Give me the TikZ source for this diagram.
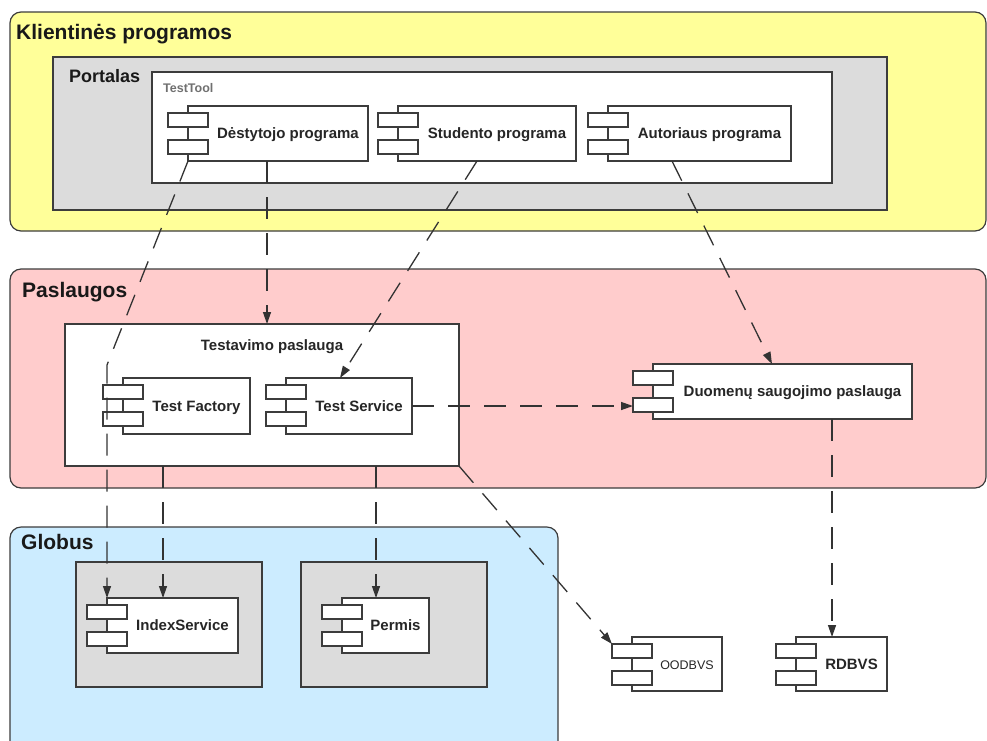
\documentclass[tikz,border=0pt]{standalone}
\usepackage{fontspec}
\setmainfont{Liberation Sans}
\usetikzlibrary{arrows.meta,calc}
\definecolor{lineC}{HTML}{3C3C3C}
\definecolor{yellowP}{HTML}{FFFF99}
\definecolor{pinkP}{HTML}{FFCCCC}
\definecolor{blueP}{HTML}{CCECFF}
\definecolor{grayP}{HTML}{DCDCDC}
\definecolor{txtgray}{HTML}{707070}
\tikzset{
  panel/.style={draw=lineC, line width=1.2pt, rounded corners=11pt},
  boxline/.style={draw=lineC, line width=1.2pt},
  dep/.style={draw=black!80, line width=1.3pt, dash pattern=on 22pt off 14pt,
    -{Triangle[length=12pt,width=8pt]}},
  titlefont/.style={font=\bfseries\fontsize{21}{25}\selectfont, text=black!90, inner sep=0pt, anchor=base west},
  compfont/.style={font=\bfseries\fontsize{15}{18}\selectfont, text=black!85},
}
\newcommand{\compbox}[7]{%
  \node[boxline, fill=white, anchor=north west, minimum width={(#4-#2)*1pt},
        minimum height={(#5-#3)*1pt}, inner sep=0pt, outer sep=0pt] (#1) at (#2,#3) {};
  \node[boxline, fill=white, anchor=north west, minimum width=40pt, minimum height=14pt,
        inner sep=0pt, outer sep=0pt] (#1-s1) at ({#2-20},{#3+7}) {};
  \node[boxline, fill=white, anchor=north west, minimum width=40pt, minimum height=14pt,
        inner sep=0pt, outer sep=0pt] (#1-s2) at ({#2-20},{#3+34}) {};
  \node[anchor=base, inner sep=0pt, #6] (#1-t) at ({(#2+20+#4)/2},{(#3+#5)/2+5.4}) {#7};
}
\begin{document}
\begin{tikzpicture}[x=1pt,y=-1pt]
\useasboundingbox (0,0) rectangle (987,740);
% layers / panels
\draw[panel, fill=yellowP] (10,12) rectangle (986,231);
\node[titlefont] (tklient) at (16,39.5) {Klientinės programos};
\draw[boxline, fill=grayP] (53,57) rectangle (887,210);
\node[titlefont, font=\bfseries\fontsize{18}{21}\selectfont] (tportal) at (69,82) {Portalas};
\draw[boxline, fill=white] (152,72) rectangle (832,183);
\node[inner sep=0pt, anchor=base west, text=txtgray, font=\bfseries\fontsize{12.5}{15}\selectfont] (ttool) at (163,92) {TestTool};

\draw[panel, fill=pinkP] (10,269) rectangle (986,488);
\node[titlefont] (tpasl) at (22,297) {Paslaugos};
\node[boxline, fill=white, anchor=north west, minimum width=394pt, minimum height=142pt,
      inner sep=0pt, outer sep=0pt] (testav) at (65,324) {};
\node[compfont, anchor=base, inner sep=0pt] (testavt) at (272,350) {Testavimo paslauga};

\draw[panel, fill=blueP] (10,527) rectangle (558,760);
\node[titlefont] (tglob) at (21,549) {Globus};
\draw[boxline, fill=grayP] (76,562) rectangle (262,687);
\draw[boxline, fill=grayP] (301,562) rectangle (487,687);

% components
\compbox{dest}{188}{106}{368}{161}{compfont}{Dėstytojo programa}
\compbox{stud}{398}{106}{576}{161}{compfont}{Studento programa}
\compbox{auth}{608}{106}{791}{161}{compfont}{Autoriaus programa}
\compbox{tf}{123}{378}{250}{434}{compfont}{Test Factory}
\compbox{ts}{286}{378}{412}{434}{compfont}{Test Service}
\compbox{duom}{653}{364}{912}{419}{compfont}{Duomenų saugojimo paslauga}
\compbox{index}{107}{598}{238}{653}{compfont}{IndexService}
\compbox{permis}{342}{598}{429}{653}{compfont}{Permis}
\compbox{oodb}{632}{637}{722}{691}{font=\fontsize{12.5}{15}\selectfont, text=black!85}{OODBVS}
\compbox{rdb}{796}{637}{887}{691}{compfont}{RDBVS}

% connectors
\draw[dep] (dest.south west) -- ([yshift=233pt]index.north west) -- (index.north west);
\draw[dep] ([xshift=-11pt]dest.south) -- ([xshift=-11pt]dest.south |- testav.north);
\draw[dep] ([xshift=-10pt]stud.south) -- ([xshift=-9pt]ts.north);
\draw[dep] ([xshift=-27.5pt]auth.south) -- ([xshift=-10.5pt]duom.north);
\draw[dep] (ts.east) -- (ts.east -| duom-s2.west);
\draw[dep] ([xshift=-99pt]testav.south) -- ([xshift=-99pt]testav.south |- index.north);
\draw[dep] ([xshift=114pt]testav.south) -- ([xshift=114pt]testav.south |- permis.north);
\draw[dep] (testav.south east) -- (oodb-s1.north west);
\draw[dep] ([xshift=49.5pt]duom.south) -- ([xshift=49.5pt]duom.south |- rdb.north);
\end{tikzpicture}
\end{document}
